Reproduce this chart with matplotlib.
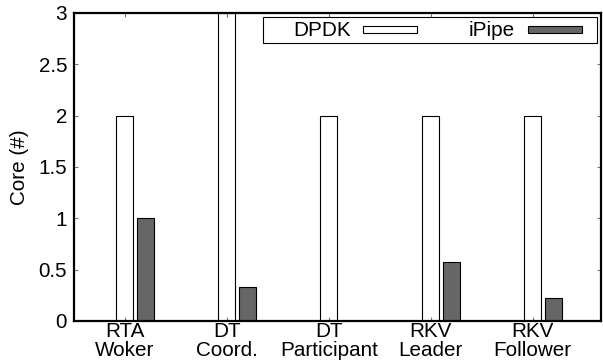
import numpy as np
import matplotlib.pyplot as plt
from matplotlib.patches import Rectangle

plt.rcParams['font.family'] = ['Liberation Sans', 'DejaVu Sans']
plt.rcParams['font.size'] = 14.9

# данные
categories = ['RTA\nWoker', 'DT\nCoord.', 'DT\nParticipant', 'RKV\nLeader', 'RKV\nFollower']
series = ['DPDK', 'iPipe']
dpdk = [2, 3, 2, 2, 2]
ipipe = [1, 0.33, 0, 0.57, 0.22]
colors = ['white', '#666666']

fig = plt.figure(figsize=(6.03, 3.64), dpi=100)
ax = fig.add_axes([74/603, 43/364, 527/603, 308/364])

x = np.arange(len(categories))
w = 1/6
ax.bar(x, dpdk, w, color=colors[0], edgecolor='black', linewidth=0.8)
ax.bar(x + 0.2, ipipe, w, color=colors[1], edgecolor='black', linewidth=0.8)

ax.set_xlim(-0.5, 4.67)
ax.set_ylim(0, 3)
ax.set_yticks(np.arange(0, 3.01, 0.5))
ax.set_yticklabels(['0', '0.5', '1', '1.5', '2', '2.5', '3'])
ax.set_xticks(x)
ax.set_xticklabels(categories, linespacing=1.0)
ax.tick_params(direction='in', length=3, width=0.8, color='#777777',
               top=True, right=True, pad=1)
ax.tick_params(axis='y', pad=5)
ax.set_ylabel('Core (#)', labelpad=7)
for s in ax.spines.values():
    s.set_linewidth(1.6)

# легенда в стиле gnuplot (рамка, текст справа налево, образец после текста)
tr = ax.transAxes
ax.add_patch(Rectangle((0.3586, 0.9026), 0.6338, 0.0844, transform=tr,
                       facecolor='white', edgecolor='black', linewidth=0.8,
                       zorder=5))
for name, col, tx, sx in zip(series, colors, [0.5256, 0.8368], [0.5484, 0.8615]):
    ax.text(tx, 0.9448, name, transform=tr, ha='right', va='center', zorder=6)
    ax.add_patch(Rectangle((sx, 0.9335), 0.1025, 0.0227, transform=tr,
                           facecolor=col, edgecolor='black', linewidth=0.8,
                           zorder=6))

fig.savefig('out.png', dpi=100)
